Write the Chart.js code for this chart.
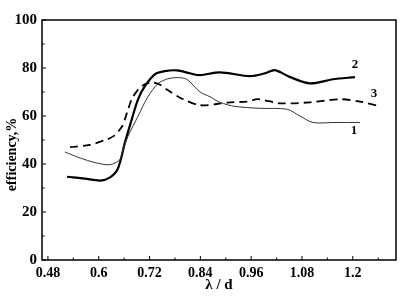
<!DOCTYPE html>
<html>
<head>
<meta charset="utf-8">
<script src="https://cdn.jsdelivr.net/npm/chart.js@4/dist/chart.umd.min.js"></script>
<style>
  body { margin: 0; background: #fff; }
  #wrap { width: 400px; height: 302px; }
</style>
</head>
<body>
<div id="wrap"><canvas id="effChart" width="400" height="302"></canvas></div>
<script>
// curve 1 - thin solid line
const x1 = [0.520, 0.556, 0.591, 0.626, 0.650, 0.655, 0.669, 0.693, 0.716, 0.740, 0.763, 0.785, 0.808, 0.839, 0.863, 0.886, 0.922, 0.981, 1.045, 1.075, 1.106, 1.158, 1.217];
const y1 = [45, 42.5, 40.6, 39.7, 41.8, 44.8, 51.5, 60, 68, 73.5, 75.5, 76, 75.3, 70, 68, 65.7, 64, 63.2, 62.8, 60, 57.3, 57.3, 57.3];

// curve 2 - thick solid line
const x2 = [0.525, 0.567, 0.603, 0.626, 0.645, 0.662, 0.678, 0.693, 0.709, 0.733, 0.756, 0.785, 0.815, 0.839, 0.886, 0.957, 0.993, 1.016, 1.052, 1.099, 1.153, 1.205];
const y2 = [34.7, 33.9, 33.1, 34.3, 38, 49, 58.6, 67, 72.4, 77.4, 78.7, 79, 77.8, 77, 78.2, 76.6, 77.8, 79.1, 76.2, 73.6, 75.3, 76.2];

// curve 3 - dashed line
const x3 = [0.532, 0.579, 0.615, 0.634, 0.655, 0.667, 0.678, 0.693, 0.709, 0.728, 0.745, 0.761, 0.799, 0.839, 0.879, 0.910, 0.950, 0.976, 1.028, 1.099, 1.170, 1.217, 1.264];
const y3 = [47, 48, 50, 51.5, 55.6, 61.5, 67, 71, 73.2, 74, 73, 71, 67, 64.5, 65, 65.7, 66, 67, 65.3, 65.7, 67, 66, 64];

const xTicks = [0.48, 0.6, 0.72, 0.84, 0.96, 1.08, 1.2];
const xMinor = [0.54, 0.66, 0.78, 0.9, 1.02, 1.14, 1.26];
const yTicks = [0, 20, 40, 60, 80, 100];
const yMinor = [10, 30, 50, 70, 90];

// numbers written next to the curve ends
const curveNames = ['1', '2', '3'];
const nameX = [1.203, 1.205, 1.250];
const nameY = [54, 81.6, 69.5];

const serif = "'Liberation Serif', 'Times New Roman', serif";

function toPoints(xs, ys) {
    return xs.map((x, i) => ({ x: x, y: ys[i] }));
}

// frame, inward tick marks, y title and curve numbers
const framePlugin = {
    id: 'frame',
    afterDraw(chart) {
        const ctx = chart.ctx;
        const area = chart.chartArea;
        const xs = chart.scales.x;
        const ys = chart.scales.y;
        ctx.save();
        ctx.strokeStyle = '#000';
        ctx.lineWidth = 1.5;
        ctx.strokeRect(area.left, area.top, area.right - area.left, area.bottom - area.top);

        ctx.lineWidth = 1;
        ctx.beginPath();
        xTicks.forEach(v => {
            const px = xs.getPixelForValue(v);
            ctx.moveTo(px, area.bottom);
            ctx.lineTo(px, area.bottom - 4);
        });
        xMinor.forEach(v => {
            const px = xs.getPixelForValue(v);
            ctx.moveTo(px, area.bottom);
            ctx.lineTo(px, area.bottom - 2.5);
        });
        yTicks.forEach(v => {
            const py = ys.getPixelForValue(v);
            ctx.moveTo(area.left, py);
            ctx.lineTo(area.left + 4, py);
        });
        yMinor.forEach(v => {
            const py = ys.getPixelForValue(v);
            ctx.moveTo(area.left, py);
            ctx.lineTo(area.left + 2.5, py);
        });
        ctx.stroke();

        ctx.fillStyle = '#000';
        ctx.textAlign = 'center';
        ctx.textBaseline = 'middle';

        // y axis title sits a bit below the middle in the original
        ctx.save();
        ctx.font = 'bold 14px ' + serif;
        ctx.translate(12, ys.getPixelForValue(44));
        ctx.rotate(-Math.PI / 2);
        ctx.fillText('efficiency,%', 0, 0);
        ctx.restore();

        ctx.font = 'bold 13px ' + serif;
        curveNames.forEach((name, i) => {
            ctx.fillText(name, xs.getPixelForValue(nameX[i]), ys.getPixelForValue(nameY[i]));
        });
        ctx.restore();
    }
};

new Chart(document.getElementById('effChart'), {
    type: 'line',
    data: {
        datasets: [{
            label: '1',
            data: toPoints(x1, y1),
            borderColor: '#333',
            borderWidth: 1,
            pointRadius: 0,
            tension: 0.3,
            fill: false
        }, {
            label: '2',
            data: toPoints(x2, y2),
            borderColor: '#000',
            borderWidth: 2.2,
            pointRadius: 0,
            tension: 0.3,
            fill: false
        }, {
            label: '3',
            data: toPoints(x3, y3),
            borderColor: '#000',
            borderWidth: 1.8,
            borderDash: [8, 5],
            pointRadius: 0,
            tension: 0.3,
            fill: false
        }]
    },
    options: {
        responsive: false,
        animation: false,
        layout: { padding: { top: 20, right: 4, left: 0, bottom: 0 } },
        plugins: {
            legend: { display: false },
            tooltip: { enabled: false }
        },
        scales: {
            x: {
                type: 'linear',
                min: 0.466,
                max: 1.302,
                afterBuildTicks: scale => { scale.ticks = xTicks.map(v => ({ value: v })); },
                afterFit: scale => { scale.height = 42; },
                grid: { display: false, drawTicks: false },
                border: { display: false },
                ticks: {
                    autoSkip: false,
                    maxRotation: 0,
                    padding: 5,
                    color: '#000',
                    font: { family: serif, size: 14, weight: 'bold' },
                    callback: v => String(v)
                },
                title: {
                    display: true,
                    text: 'λ / d',
                    color: '#000',
                    font: { family: serif, size: 15, weight: 'bold' },
                    padding: { top: 0, bottom: 8 }
                }
            },
            y: {
                min: 0,
                max: 100,
                afterBuildTicks: scale => { scale.ticks = yTicks.map(v => ({ value: v })); },
                afterFit: scale => { scale.width = 42; },
                grid: { display: false, drawTicks: false },
                border: { display: false },
                ticks: {
                    padding: 5,
                    color: '#000',
                    font: { family: serif, size: 15, weight: 'bold' }
                }
            }
        }
    },
    plugins: [framePlugin]
});
</script>
</body>
</html>
